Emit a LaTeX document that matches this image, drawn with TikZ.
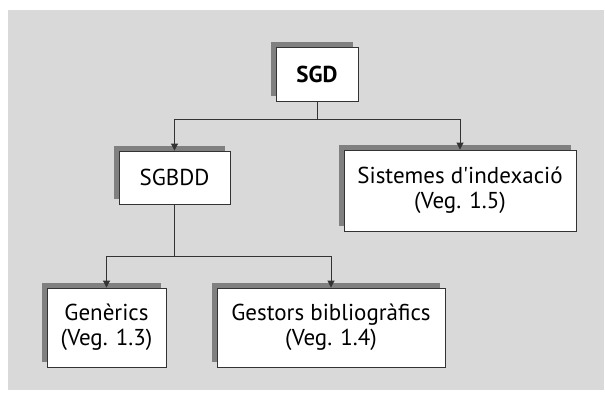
\documentclass[tikz,border=0pt]{standalone}
\usepackage{fontspec}
\setmainfont{PT Sans}
\usepackage{xcolor}
\usetikzlibrary{positioning, arrows.meta, shadows}
\definecolor{fons}{HTML}{D9D9D9}
\definecolor{ombra}{HTML}{808080}
\definecolor{vora}{HTML}{333333}

\begin{document}
\begin{tikzpicture}[x=1pt, y=-1pt,
    caixa/.style={draw=vora, line width=0.9pt, fill=white, inner sep=0pt,
      align=center, font=\fontsize{23}{25}\selectfont,
      drop shadow={shadow xshift=-5pt, shadow yshift=5pt, fill=ombra, opacity=1}},
    fletxa/.style={-{Triangle[width=7pt, length=7pt]}, line width=0.9pt, draw=vora},
    linia/.style={line width=0.9pt, draw=vora}]
  \useasboundingbox (0,0) rectangle (605,399);
  % fons gris
  \fill[fons] (8,10) rectangle (604,390);

  % caixes
  \node[caixa, minimum width=82pt, minimum height=54pt, font=\fontsize{23}{25}\selectfont\bfseries]
    (sgd) at (317,74) {SGD};
  \node[caixa, minimum width=111pt, minimum height=53pt] (sgbdd) at (174.5,177.5) {SGBDD};
  \node[caixa, minimum width=232pt, minimum height=81pt] (sist) at (460,190.5)
    {Sistemes d\textquotesingle indexació\\(Veg. 1.5)};
  \node[caixa, minimum width=119pt, minimum height=79pt] (gen) at (106.5,327.5)
    {Genèrics\\(Veg. 1.3)};
  \node[caixa, minimum width=228pt, minimum height=79pt] (gest) at (331,327.5)
    {Gestors bibliogràfics\\(Veg. 1.4)};

  % connexions
  \coordinate (n1) at (317,119.5);
  \coordinate (n2) at (174.5,256);
  \draw[linia] (sgd.south) -- (n1);
  \draw[fletxa] (n1) -| (sgbdd.north);
  \draw[fletxa] (n1) -| (sist.north);
  \draw[linia] (sgbdd.south) -- (n2);
  \draw[fletxa] (n2) -| (gen.north);
  \draw[fletxa] (n2) -| (gest.north);
\end{tikzpicture}
\end{document}
